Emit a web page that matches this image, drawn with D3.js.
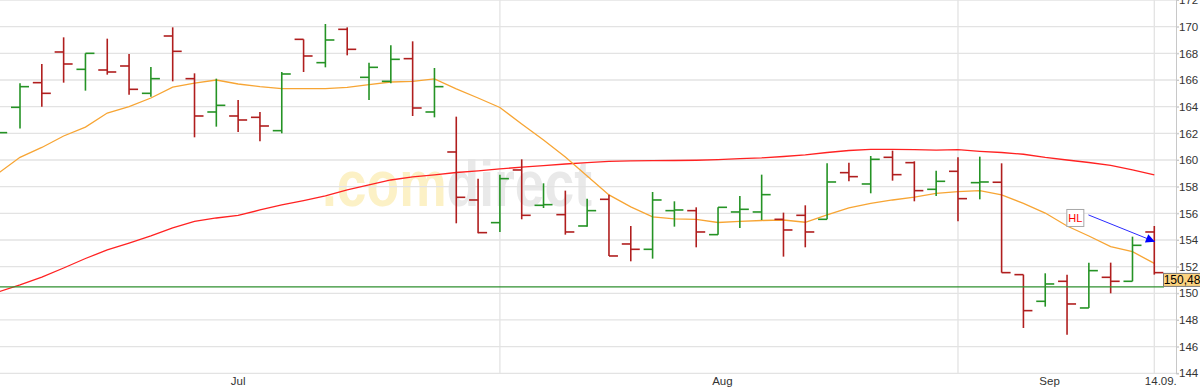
<!DOCTYPE html>
<html>
<head>
<meta charset="utf-8">
<script src="https://cdn.jsdelivr.net/npm/d3@7"></script>
<style>
    body { margin: 0; background: #fff; }
    svg { display: block; font-family: 'Liberation Sans', Arial, sans-serif; }
</style>
</head>
<body>
<div class="chart"></div>
<script>
const width = 1200;
const height = 392;
const plotRight = 1176;
const plotBottom = 373.3;
const barRed = '#b01e1e';
const barGreen = '#259325';
const gridGrey = '#e3e3e3';

// daily bars, 54 trading days up to 14.09.
const opens = [161.6, 163.95, 165.8, 168.1, 166.8, 166.75, 167.05, 165.0, 169.3, 166.1,
    163.6, 163.3, 163.2, 162.2, 169.05, 167.3, 169.8, 166.2, 165.9, 167.6,
    163.6, 160.6, 157.0, 155.3, 159.25, 156.6, 155.9, 155.05, 157.05, 153.7,
    153.3, 156.2, 156.2, 154.4, 156.1, 156.1, 155.55, 155.85, 155.55, 159.05,
    158.2, 160.2, 159.8, 157.8, 159.15, 158.3, 158.33, 151.4, 149.4, 150.9,
    148.9, 151.2, 150.9, 154.6];
const highs = [162.5, 165.75, 167.2, 169.2, 168.0, 169.1, 167.95, 166.97, 169.95, 166.5,
    166.1, 164.5, 163.6, 166.6, 169.05, 170.2, 169.95, 167.3, 168.6, 168.9,
    166.9, 163.25, 158.6, 158.9, 160.05, 158.25, 157.7, 157.1, 157.4, 155.05,
    157.6, 156.9, 156.45, 156.45, 157.3, 158.9, 156.05, 156.6, 159.75, 159.8,
    160.3, 160.7, 159.9, 159.2, 160.2, 160.25, 159.75, 151.4, 151.5, 151.4,
    152.3, 152.3, 154.25, 155.05];
const lows = [161.3, 162.37, 164.0, 165.8, 165.2, 166.4, 164.9, 164.75, 165.9, 161.7,
    162.5, 162.1, 161.4, 162.0, 166.6, 166.95, 167.85, 164.5, 165.75, 163.3,
    163.2, 155.25, 154.5, 154.6, 155.55, 156.4, 154.4, 155.0, 152.8, 152.4,
    152.6, 155.0, 153.45, 154.4, 154.9, 155.5, 152.75, 153.45, 155.55, 158.4,
    157.5, 158.45, 156.9, 157.3, 155.4, 157.05, 151.55, 147.4, 149.0, 146.9,
    148.9, 150.0, 150.9, 151.4];
const closes = [162.05, 165.5, 165.0, 167.2, 168.0, 166.6, 165.3, 166.1, 168.15, 163.3,
    164.1, 163.0, 162.55, 166.45, 167.8, 169.0, 168.3, 166.95, 167.55, 163.9,
    165.5, 157.2, 154.55, 158.6, 155.85, 156.65, 154.6, 156.2, 152.8, 153.3,
    157.0, 156.25, 154.6, 156.45, 156.3, 157.4, 154.75, 154.6, 158.35, 158.75,
    160.05, 158.9, 157.7, 158.4, 157.1, 158.35, 151.55, 148.7, 150.7, 149.2,
    151.7, 150.9, 153.6, 151.55];

// moving averages (38 and 200 days)
const ma38 = [159.0, 160.2, 160.94, 161.8, 162.47, 163.52, 164.01, 164.65, 165.47, 165.76,
    166.0, 165.7, 165.5, 165.36, 165.35, 165.35, 165.44, 165.66, 165.85, 165.9,
    166.08, 165.33, 164.65, 163.94, 162.7, 161.5, 160.22, 158.8, 157.38, 156.48,
    155.73, 155.59, 155.55, 155.31, 155.39, 155.46, 155.5, 155.33, 155.88, 156.4,
    156.74, 157.0, 157.22, 157.5, 157.62, 157.7, 157.38, 156.75, 156.02, 155.05,
    154.3, 153.5, 153.12, 152.25];
const ma200 = [150.1, 150.63, 151.22, 151.9, 152.61, 153.25, 153.77, 154.3, 154.9, 155.39,
    155.65, 155.84, 156.25, 156.63, 156.96, 157.3, 157.75, 158.13, 158.5, 158.73,
    158.88, 159.06, 159.19, 159.33, 159.46, 159.58, 159.7, 159.8, 159.89, 159.93,
    159.95, 159.96, 159.98, 160.03, 160.1, 160.16, 160.26, 160.38, 160.56, 160.71,
    160.79, 160.79, 160.77, 160.74, 160.77, 160.65, 160.56, 160.43, 160.19, 160.0,
    159.81, 159.59, 159.25, 158.88];

const yTicks = d3.range(144, 173, 2);
const monthStarts = [23, 44, 53];
const monthLabels = ['Jul', 'Aug', 'Sep', '14.09.'];
const monthLabelAt = [11, 33.2, 48.2, 53.3];
const lastPrice = 150.48;
const hlBox = {i: 49.38, v: 155.65};
const hlArrow = [{i: 49.98, v: 155.88}, {i: 53.03, v: 153.87}];

buildChart();


function buildChart() {

    const bars = opens.map((o, i) => ({i: i, o: o, h: highs[i], l: lows[i], c: closes[i]}));

    const x = d3.scaleLinear()
        .domain([0, 53])
        .range([-1.81, 1154.3]);

    const y = d3.scaleLinear()
        .domain([144, 172])
        .range([plotBottom, 0]);

    const svg = d3.select('.chart')
        .append('svg')
        .attr('width', width)
        .attr('height', height);

    svg.append('defs')
        .append('marker')
        .attr('id', 'arrowhead')
        .attr('viewBox', '0 0 10 10')
        .attr('refX', 10)
        .attr('refY', 5)
        .attr('markerWidth', 12)
        .attr('markerHeight', 9)
        .attr('markerUnits', 'userSpaceOnUse')
        .attr('orient', 'auto')
        .append('path')
        .attr('d', 'M0,0L10,5L0,10Z')
        .attr('fill', '#0000ff');

    // Watermark
    let mark = svg.append('text')
        .attr('x', 322)
        .attr('y', 206)
        .attr('font-size', 64)
        .attr('font-weight', 'bold')
        .attr('textLength', 270)
        .attr('lengthAdjust', 'spacingAndGlyphs');
    mark.append('tspan').attr('fill', '#fcf1c6').text('.com');
    mark.append('tspan').attr('fill', '#e9e9e9').text('direct');

    // Grid
    svg.append('g')
        .selectAll('line')
        .data(yTicks)
        .join('line')
        .attr('x1', 0)
        .attr('x2', plotRight + 3)
        .attr('y1', d => y(d))
        .attr('y2', d => y(d))
        .attr('stroke', gridGrey)
        .attr('stroke-width', 1.3);

    svg.append('g')
        .selectAll('line')
        .data(monthStarts)
        .join('line')
        .attr('x1', d => x(d))
        .attr('x2', d => x(d))
        .attr('y1', 0)
        .attr('y2', plotBottom)
        .attr('stroke', gridGrey)
        .attr('stroke-width', 1.3);

    // Right axis
    const yAxis = svg.append('g')
        .attr('transform', `translate(${plotRight},0)`)
        .call(d3.axisRight(y).tickValues(yTicks).tickSize(3).tickFormat(d3.format('d')));
    yAxis.select('.domain').attr('stroke', '#c8c8c8');
    yAxis.selectAll('.tick line').attr('stroke', '#c8c8c8');
    yAxis.selectAll('.tick text')
        .attr('x', 3)
        .attr('fill', '#333')
        .attr('font-size', 11.5)
        .attr('font-family', "'Liberation Sans', Arial, sans-serif");

    // Month labels
    svg.append('g')
        .selectAll('text')
        .data(monthLabels)
        .join('text')
        .attr('x', (d, k) => x(monthLabelAt[k]))
        .attr('y', 385)
        .attr('text-anchor', 'middle')
        .attr('font-size', 11.5)
        .attr('fill', '#333')
        .text(d => d);

    // Moving averages
    let maLine = d3.line()
        .x((d, i) => x(i))
        .y(d => y(d));

    svg.append('path')
        .attr('d', maLine(ma200))
        .attr('fill', 'none')
        .attr('stroke', '#ff2222')
        .attr('stroke-width', 1.3);

    svg.append('path')
        .attr('d', maLine(ma38))
        .attr('fill', 'none')
        .attr('stroke', '#f7a534')
        .attr('stroke-width', 1.3);

    // OHLC bars
    let barGroups = svg.append('g')
        .selectAll('g')
        .data(bars)
        .join('g')
        .attr('stroke', d => d.c >= d.o ? barGreen : barRed)
        .attr('stroke-width', 1.6);

    barGroups.append('line')
        .attr('x1', d => x(d.i))
        .attr('x2', d => x(d.i))
        .attr('y1', d => y(d.h))
        .attr('y2', d => y(d.l));

    barGroups.append('line')
        .attr('x1', d => x(d.i) - 9)
        .attr('x2', d => x(d.i))
        .attr('y1', d => y(d.o))
        .attr('y2', d => y(d.o));

    barGroups.append('line')
        .attr('x1', d => x(d.i))
        .attr('x2', d => x(d.i) + 9)
        .attr('y1', d => y(d.c))
        .attr('y2', d => y(d.c));

    // Last price line
    svg.append('line')
        .attr('x1', 0)
        .attr('x2', 1164)
        .attr('y1', y(lastPrice))
        .attr('y2', y(lastPrice))
        .attr('stroke', '#2f8f2f')
        .attr('stroke-width', 1.2);

    svg.append('rect')
        .attr('x', 1163.5)
        .attr('y', y(lastPrice) - 13.5)
        .attr('width', 37)
        .attr('height', 13)
        .attr('fill', '#fbd27f')
        .attr('stroke', '#7a7a7a')
        .attr('stroke-width', 1);

    svg.append('text')
        .attr('x', 1182)
        .attr('y', y(lastPrice) - 2.8)
        .attr('text-anchor', 'middle')
        .attr('font-size', 12)
        .attr('fill', '#000')
        .text('150,48');

    // HL annotation
    svg.append('line')
        .attr('x1', x(hlArrow[0].i))
        .attr('y1', y(hlArrow[0].v))
        .attr('x2', x(hlArrow[1].i))
        .attr('y2', y(hlArrow[1].v))
        .attr('stroke', '#2a2aff')
        .attr('stroke-width', 1)
        .attr('marker-end', 'url(#arrowhead)');

    svg.append('rect')
        .attr('x', x(hlBox.i) - 8.5)
        .attr('y', y(hlBox.v) - 8.5)
        .attr('width', 17)
        .attr('height', 17)
        .attr('fill', '#fff')
        .attr('stroke', '#a8a8a8')
        .attr('stroke-width', 1);

    svg.append('text')
        .attr('x', x(hlBox.i))
        .attr('y', y(hlBox.v) + 4)
        .attr('text-anchor', 'middle')
        .attr('font-size', 11)
        .attr('fill', '#ff0000')
        .text('HL');
}
</script>
</body>
</html>
